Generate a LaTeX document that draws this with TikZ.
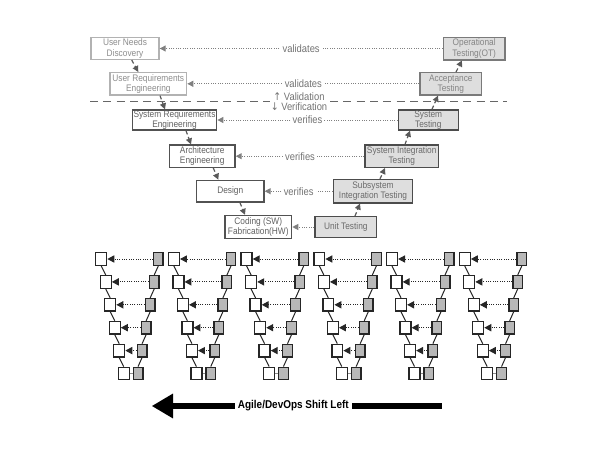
\documentclass[tikz,border=0pt]{standalone}
\usepackage{fontspec}
\setmainfont{Liberation Sans}[FakeStretch=0.88]
\newfontfamily\arrowfont{DejaVu Sans}[FakeStretch=0.88]
\usetikzlibrary{arrows.meta,calc}
\begin{document}
\begin{tikzpicture}[x=0.75pt,y=-0.75pt,
  box/.style={draw, line width=1pt, inner sep=0pt, align=center, font=\fontsize{7.1}{7.6}\selectfont},
  pale/.style={box, draw=black!30, text=black!45},
  lbox/.style={box, draw=black!68, text=black!62},
  rpale/.style={box, draw=black!52, fill=black!13, text=black!48},
  rbox/.style={box, draw=black!70, fill=black!13, text=black!58},
  hconn/.style={densely dotted, black!50, line width=0.75pt, -{Triangle[length=4.5pt,width=4.5pt]}},
  dconn/.style={densely dashed, black!65, line width=0.9pt, -{Triangle[length=4.5pt,width=4.5pt]}},
  lbl/.style={fill=white, inner sep=1.5pt, text=black!55, font=\fontsize{8}{9}\selectfont},
  sl/.style={draw=black!85, line width=1pt, fill=white, minimum width=8.2pt, minimum height=9.4pt, inner sep=0pt},
  sr/.style={draw=black!85, line width=1pt, fill=black!28, minimum width=7.2pt, minimum height=9.4pt, inner sep=0pt},
  vline/.style={draw=black!85, line width=0.75pt},
  varrow/.style={densely dotted, black!85, line width=0.75pt, -{Triangle[length=5.2pt,width=5.4pt]}},
  bigarrow/.style={line width=5pt, -{Triangle[length=16pt,width=17.5pt]}}
]
\useasboundingbox (0,0) rectangle (615,475);

% ---- V model boxes
\node[pale, minimum width=51pt, minimum height=16.3pt] (und) at (125,48.5) {User Needs\\Discovery};
\node[rpale, minimum width=46.3pt, minimum height=17pt] (ot) at (474.2,48.5) {Operational\\Testing(OT)};
\node[pale, minimum width=57.5pt, minimum height=16.7pt] (ure) at (148.3,83.8) {User Requirements\\Engineering};
\node[rpale, minimum width=46.3pt, minimum height=16.7pt] (at) at (450.8,83.8) {Acceptance\\Testing};
\node[lbox, minimum width=63.3pt, minimum height=15pt] (sre) at (174.5,120) {System Requirements\\Engineering};
\node[rbox, minimum width=45pt, minimum height=15pt] (st) at (428.3,120) {System\\Testing};
\node[lbox, minimum width=49.3pt, minimum height=16.7pt] (ae) at (202.2,156.2) {Architecture\\Engineering};
\node[rbox, minimum width=55pt, minimum height=16.7pt] (sysit) at (401.7,156.2) {System Integration\\Testing};
\node[lbox, minimum width=50.5pt, minimum height=16.3pt] (des) at (230.3,191.2) {Design};
\node[rbox, minimum width=59.5pt, minimum height=17.5pt] (subit) at (373,191.2) {Subsystem\\Integration Testing};
\node[lbox, minimum width=50pt, minimum height=17.3pt] (cod) at (258.3,227) {Coding (SW)\\Fabrication(HW)};
\node[rbox, minimum width=46.3pt, minimum height=15.5pt] (ut) at (345.8,227) {Unit Testing};

% ---- horizontal validation / verification links
\draw[hconn] (ot) -- node[lbl]{validates} (und);
\draw[hconn] (at) -- node[lbl]{validates} (ure);
\draw[hconn] (st) -- node[lbl]{verifies} (sre);
\draw[hconn] (sysit) -- node[lbl]{verifies} (ae);
\draw[hconn] (subit) -- node[lbl]{verifies} (des);
\draw[hconn] (ut) -- (cod);

% ---- diagonal flow arrows
\draw[dconn] ($(und.south)+(6.7,0)$) -- ($(ure.north)+(-10,0)$);
\draw[dconn] ($(ure.south)+(11.7,0)$) -- ($(sre.north)+(-9.5,0)$);
\draw[dconn] ($(sre.south)+(11.5,0)$) -- ($(ae.north)+(-11.2,0)$);
\draw[dconn] ($(ae.south)+(11.1,0)$) -- ($(des.north)+(-12,0)$);
\draw[dconn] ($(des.south)+(9.7,0)$) -- ($(cod.north)+(-13.3,0)$);
\draw[dconn] ($(ut.north)+(9.2,0)$) -- ($(subit.south)+(-13,0)$);
\draw[dconn] ($(subit.north)+(7,0)$) -- ($(sysit.south)+(-16.7,0)$);
\draw[dconn] ($(sysit.north)+(3.3,0)$) -- ($(st.south)+(-18.3,0)$);
\draw[dconn] ($(st.north)+(3.7,0)$) -- ($(at.south)+(-12.8,0)$);
\draw[dconn] ($(at.north)+(5.2,0)$) -- ($(ot.south)+(-12.2,0)$);

% ---- validation / verification divider
\coordinate (dl) at (90,101.7);
\coordinate (dr) at (506.7,101.7);
\draw[black!60, line width=1.1pt, dash pattern=on 6pt off 4pt] (dl) -- (dr);
\node[lbl, align=center, inner sep=0.6pt, font=\fontsize{8}{7.7}\selectfont] (vv) at (299,101.7)
  {{\arrowfont ↑} Validation\\{\arrowfont ↓} Verification};

% ---- six small V models
\foreach \k in {0,...,5} {
  \pgfmathsetmacro\ox{95.7+72.7*\k}
  \foreach \i in {0,...,5} {
    \node[sl] (v\k-l\i) at ({\ox+5.5+4.5*\i},{259+22.9*\i}) {};
    \node[sr] (v\k-r\i) at ({\ox+62.6-4.05*\i},{259+22.9*\i}) {};
  }
  \foreach \i [evaluate=\i as \j using int(\i+1)] in {0,...,4} {
    \draw[vline] (v\k-l\i.south) -- (v\k-l\j.north);
    \draw[vline] (v\k-r\i.south) -- (v\k-r\j.north);
    \draw[varrow] (v\k-r\i.west) -- (v\k-l\i.east);
  }
  \draw[vline, draw=black!45] (v\k-r5.west) -- (v\k-l5.east);
}

% ---- shift-left arrow
\coordinate (sh) at (441.7,406);
\coordinate (tip) at (151.7,406);
\draw[bigarrow] (sh) -- (tip);
\node[fill=white, inner xsep=2.5pt, inner ysep=2pt, font=\bfseries\fontsize{8.5}{10}\selectfont] (shift) at (293.3,406) {Agile/DevOps Shift Left};
\end{tikzpicture}
\end{document}
